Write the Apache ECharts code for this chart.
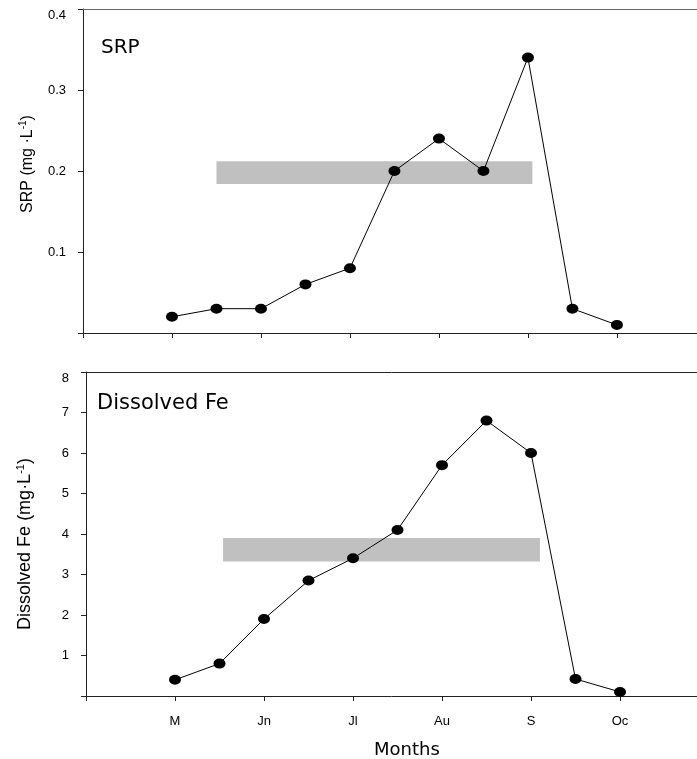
<!DOCTYPE html>
<html><head><meta charset="utf-8">
<script src="https://cdn.jsdelivr.net/npm/echarts@6/dist/echarts.min.js"></script>
<style>html,body{margin:0;padding:0;background:#fff}#c{width:697px;height:759px}</style>
</head><body><div id="c"></div>
<script>
// ---- data ----
const monthTicks = ['', 'M', 'Jn', 'Jl', 'Au', 'S', 'Oc'];
const tickValues = [0, 1, 2, 3, 4, 5, 6];
const samplePos = [1, 1.5, 2, 2.5, 3, 3.5, 4, 4.5, 5, 5.5, 6];
const srpValues = [0.02, 0.03, 0.03, 0.06, 0.08, 0.20, 0.24, 0.20, 0.34, 0.03, 0.01];
const feValues = [0.4, 0.8, 1.9, 2.85, 3.4, 4.1, 5.7, 6.8, 6.0, 0.42, 0.1];
const srpBandX = [1.5, 5.05];
const srpBandY = [0.184, 0.212];
const feBandX = [1.54, 5.1];
const feBandY = [3.32, 3.9];

const chart = echarts.init(document.getElementById('c'), null, {renderer: 'canvas'});
const axisCol = '#222';
const pairs = (xs, ys) => xs.map((x, i) => [x, ys[i]]);

function xAxisCfg(gridIndex, max, showLabels) {
  return {
    type: 'value', gridIndex, min: 0, max, interval: 1,
    axisLine: {show: true, lineStyle: {color: axisCol, width: 1}},
    axisTick: {show: true, inside: false, length: 5, lineStyle: {color: axisCol}, customValues: tickValues},
    splitLine: {show: false},
    axisLabel: {show: showLabels, margin: 19, color: '#000', fontFamily: 'Liberation Sans', fontSize: 13,
      customValues: tickValues,
      formatter: v => monthTicks[Math.round(v)] || ''}
  };
}
function topAxisCfg(gridIndex, max, col) {
  return {
    type: 'value', gridIndex, position: 'top', min: 0, max,
    axisLine: {show: true, onZero: false, lineStyle: {color: col, width: 1}},
    axisTick: {show: false}, axisLabel: {show: false}, splitLine: {show: false}
  };
}
function yAxisCfg(gridIndex, max, interval, decimals, nameRich, nameGap, nameSize, namePad) {
  return {
    type: 'value', gridIndex, min: 0, max, interval,
    axisLine: {show: true, lineStyle: {color: axisCol, width: 1}},
    axisTick: {show: true, length: 5, lineStyle: {color: axisCol}},
    splitLine: {show: false},
    axisLabel: {margin: 17, color: '#000', fontFamily: 'Liberation Sans', fontSize: 13,
      verticalAlignMaxLabel: 'top',
      formatter: v => v === 0 ? '' : v.toFixed(decimals)},
    name: nameRich, nameLocation: 'middle', nameRotate: 90, nameGap,
    nameTextStyle: {
      padding: namePad,
      rich: {
        a: {fontFamily: 'Liberation Sans', fontSize: nameSize, color: '#000'},
        s: {fontFamily: 'Liberation Sans', fontSize: Math.round(nameSize * 0.6), color: '#000', verticalAlign: 'top', padding: [0, 0, 9, 0]}
      }
    }
  };
}

chart.setOption({
  animation: false,
  backgroundColor: '#fff',
  grid: [
    {left: 83, top: 9, right: 0, height: 324},
    {left: 86, top: 372, right: 0, height: 324}
  ],
  xAxis: [
    xAxisCfg(0, 6.9, false), xAxisCfg(1, 6.865, true),
    topAxisCfg(0, 6.9, '#666'), topAxisCfg(1, 6.865, '#222')
  ],
  yAxis: [
    yAxisCfg(0, 0.4, 0.1, 1, '{a|SRP (mg ·L}{s|-1}{a|)}', 46, 16, [0, 0, 0, 14]),
    yAxisCfg(1, 8, 1, 0, '{a|Dissolved Fe (mg·L}{s|-1}{a|)}', 51, 18, [0, 20, 0, 0])
  ],
  series: [
    {
      type: 'line', xAxisIndex: 0, yAxisIndex: 0, data: pairs(samplePos, srpValues),
      symbol: 'circle', symbolSize: [12, 10], itemStyle: {color: '#000'},
      lineStyle: {color: '#000', width: 1}, z: 5,
      markArea: {silent: true, itemStyle: {color: '#c0c0c0'}, z: 1,
        data: [[{coord: [srpBandX[0], srpBandY[0]]}, {coord: [srpBandX[1], srpBandY[1]]}]]}
    },
    {
      type: 'line', xAxisIndex: 1, yAxisIndex: 1, data: pairs(samplePos, feValues),
      symbol: 'circle', symbolSize: [12, 10], itemStyle: {color: '#000'},
      lineStyle: {color: '#000', width: 1}, z: 5,
      markArea: {silent: true, itemStyle: {color: '#c0c0c0'}, z: 1,
        data: [[{coord: [feBandX[0], feBandY[0]]}, {coord: [feBandX[1], feBandY[1]]}]]}
    }
  ],
  graphic: [
    {type: 'text', left: 101, top: 38, style: {text: 'SRP', font: '20px "Comic Sans MS", "DejaVu Sans", sans-serif', fill: '#000'}},
    {type: 'text', left: 97, top: 393, style: {text: 'Dissolved Fe', font: '21px "Comic Sans MS", "DejaVu Sans", sans-serif', fill: '#000'}},
    {type: 'text', left: 374, top: 741, style: {text: 'Months', font: '18px "Comic Sans MS", "DejaVu Sans", sans-serif', fill: '#000'}}
  ]
});
</script></body></html>
